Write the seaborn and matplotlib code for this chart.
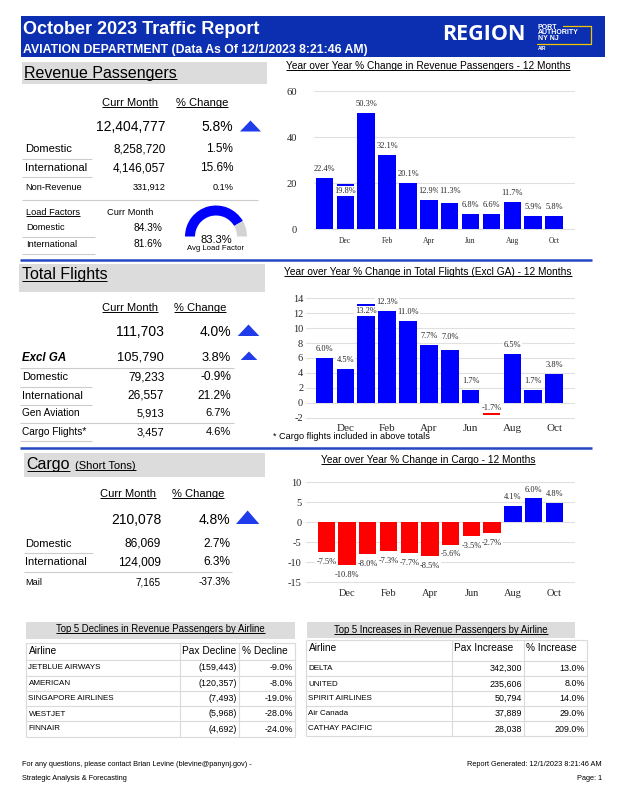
import matplotlib
matplotlib.use("Agg")
import matplotlib.pyplot as plt
from matplotlib.patches import Rectangle, Polygon, Wedge
import pandas as pd
import seaborn as sns

# --- Data: year over year % change, last 12 months ---
months = ['Nov', 'Dec', 'Jan', 'Feb', 'Mar', 'Apr', 'May', 'Jun', 'Jul', 'Aug', 'Sep', 'Oct']
pax_change = [22.4, 19.8, 50.3, 32.1, 20.1, 12.9, 11.3, 6.8, 6.6, 11.7, 5.9, 5.8]
flights_change = [6.0, 4.5, 13.2, 12.3, 11.0, 7.7, 7.0, 1.7, -1.7, 6.5, 1.7, 3.8]
cargo_change = [-7.5, -10.8, -8.0, -7.3, -7.7, -8.5, -5.6, -3.5, -2.7, 4.1, 6.0, 4.8]

# --- Data: current month summaries ---
rev_total = (12404777, 5.8)
rev_labels = ['Domestic', 'International', 'Non-Revenue']
rev_curr = [8258720, 4146057, 331912]
rev_pct = [1.5, 15.6, 0.1]
lf_labels = ['Domestic', 'International']
lf_values = [84.3, 81.6]
avg_load_factor = 83.3

flights_total = (111703, 4.0)
flights_labels = ['Excl GA', 'Domestic', 'International', 'Gen Aviation', 'Cargo Flights*']
flights_curr = [105790, 79233, 26557, 5913, 3457]
flights_pct = [3.8, -0.9, 21.2, 6.7, 4.6]

cargo_total = (210078, 4.8)
cargo_labels = ['Domestic', 'International', 'Mail']
cargo_curr = [86069, 124009, 7165]
cargo_pct = [2.7, 6.3, -37.3]

# --- Data: top 5 airline tables ---
decline_airlines = ['JETBLUE AIRWAYS', 'AMERICAN', 'SINGAPORE AIRLINES', 'WESTJET', 'FINNAIR']
decline_pax = [-159443, -120357, -7493, -5968, -4692]
decline_pct = [-9.0, -8.0, -19.0, -28.0, -24.0]
increase_airlines = ['DELTA', 'UNITED', 'SPIRIT AIRLINES', 'Air Canada', 'CATHAY PACIFIC']
increase_pax = [342300, 235606, 50794, 37889, 28038]
increase_pct = [13.0, 8.0, 14.0, 29.0, 209.0]

sns.set_style("white")
plt.rcParams['font.family'] = ['Liberation Sans', 'DejaVu Sans']
SANS = 'Liberation Sans'
SERIF = 'Liberation Serif'
BLUE = '#0000FF'
RED = '#FF0000'
GRAY_BOX = '#DCDCDC'
RULE = '#CCCCCC'

W, H = 618, 800
fig = plt.figure(figsize=(W / 100, H / 100), dpi=100)

# background axes in pixel coordinates (y grows downward)
bg = fig.add_axes([0, 0, 1, 1])
bg.set_xlim(0, W)
bg.set_ylim(H, 0)
bg.axis('off')
renderer = fig.canvas.get_renderer()


def text(x, y, s, size, ha='left', color='black', weight='normal', style='normal',
         family=SANS, underline=False):
    t = bg.text(x, y, s, fontsize=size, ha=ha, va='center', color=color,
                fontweight=weight, fontstyle=style, family=family)
    if underline:
        bb = t.get_window_extent(renderer=renderer)
        inv = bg.transData.inverted()
        (xa, yb), (xb, _) = inv.transform([(bb.x0, bb.y0), (bb.x1, bb.y1)])
        yu = yb - 0.1 * size * 100 / 72
        bg.plot([xa, xb], [yu, yu], color=color, lw=0.7, solid_capstyle='butt')
    return t


def hline(y, x0, x1, color=RULE, lw=0.8):
    bg.plot([x0, x1], [y, y], color=color, lw=lw, solid_capstyle='butt')


def vline(x, y0, y1, color=RULE, lw=0.8):
    bg.plot([x, x], [y0, y1], color=color, lw=lw, solid_capstyle='butt')


def box(x0, y0, x1, y1, color):
    bg.add_patch(Rectangle((x0, y0), x1 - x0, y1 - y0, fc=color, ec='none'))


def triangle(x0, x1, ytop, ybot):
    bg.add_patch(Polygon([(x0, ybot), (x1, ybot), ((x0 + x1) / 2, ytop)],
                         closed=True, fc='#1F3BEA', ec='none'))


def num(v):
    return f'{v:,}'


def pct(v):
    return f'{v:.1f}%'


# --- Header band ---
box(21, 16, 605, 57, '#0B2FB0')
text(23, 29, 'October 2023 Traffic Report', 13, color='white', weight='bold')
text(23, 49.5, 'AVIATION DEPARTMENT (Data As Of 12/1/2023 8:21:46 AM)', 8.8,
     color='white', weight='bold')
text(484, 35, 'REGION', 15.5, ha='center', color='white', weight='bold', family='Open Sans')
for s, y in [('PORT', 27.5), ('AUTHORITY', 33), ('NY NJ', 38.5)]:
    text(537.5, y, s, 5, color='white', weight='bold')
text(537.5, 48.5, 'AIR', 3.5, color='white', weight='bold')
bg.plot([563, 590.5, 590.5, 537], [26, 26, 43.5, 43.5], color='#F2C500', lw=0.9)

# --- Revenue Passengers block ---
box(22, 62, 266.5, 84, GRAY_BOX)
text(24, 73.3, 'Revenue Passengers', 11.5, underline=True)
text(102.3, 103.3, 'Curr Month', 8, underline=True)
text(176, 103.3, '% Change', 8, underline=True)
text(165.7, 126.7, num(rev_total[0]), 10, ha='right')
text(233.3, 126.7, pct(rev_total[1]), 10, ha='right')
triangle(240, 261, 120.5, 131.5)
for lab, cur, p, y, sz in zip(rev_labels, rev_curr, rev_pct, [149, 168.3, 187.3], [8.5, 8.5, 6.6]):
    text(25, y, lab, sz - 0.4 if sz > 8 else sz)
    text(165.7, y, num(cur), sz, ha='right')
    text(233.3, y, pct(p), sz, ha='right')
hline(159, 22, 92)
hline(177.3, 22, 92)
hline(200, 22, 258)
text(26, 212.3, 'Load Factors', 6.7, underline=True)
text(107.3, 212.3, 'Curr Month', 6.7)
for lab, v, y in zip(lf_labels, lf_values, [227.7, 244.3]):
    text(26, y, lab, 6.7)
    text(162.7, y, pct(v), 7.3, ha='right')
hline(236.7, 22, 95)
hline(254, 22, 95)
# gauge for the average load factor
split = 180 + 180 * avg_load_factor / 100
bg.add_patch(Wedge((216, 236.5), 31, 180, split, width=10, fc=BLUE, ec='none'))
bg.add_patch(Wedge((216, 236.5), 31, split, 360, width=10, fc='#D3D3D3', ec='none'))
text(216, 240, pct(avg_load_factor), 8, ha='center')
text(216, 249, 'Avg Load Factor', 5.6, ha='center')
hline(259.5, 20, 592, color='#2447C2', lw=1.8)

# --- Total Flights block ---
box(19, 264, 265, 291.7, GRAY_BOX)
text(21.7, 275, 'Total Flights', 11.5, underline=True)
text(101.7, 307.7, 'Curr Month', 8, underline=True)
text(174, 307.7, '% Change', 8, underline=True)
text(164.3, 331.7, num(flights_total[0]), 10, ha='right')
text(231, 331.7, pct(flights_total[1]), 10, ha='right')
triangle(237.7, 259.3, 324.5, 336)
flight_y = [357.7, 377.3, 395.7, 413.3, 432.3]
flight_size = [9.3, 8.6, 8.6, 8.0, 8.0]
for i, (lab, cur, p) in enumerate(zip(flights_labels, flights_curr, flights_pct)):
    y, sz = flight_y[i], flight_size[i]
    if i == 0:
        text(22, y, lab, 8.3, weight='bold', style='italic')
    else:
        text(22, y, lab, sz - 0.7)
    text(164.3, y, num(cur), sz, ha='right')
    text(231, y, pct(p), sz, ha='right')
triangle(240.7, 257.3, 351.5, 360)
hline(368.3, 20, 234)
hline(386.7, 20, 92)
hline(405, 20, 92)
hline(423.3, 20, 234)
hline(441, 20, 92)
hline(447.7, 20, 592, color='#2447C2', lw=1.8)

# --- Cargo block ---
box(24, 453.3, 265, 476.7, GRAY_BOX)
text(26.7, 465, 'Cargo', 11.5, underline=True)
text(75, 466, '(Short Tons)', 8, underline=True)
text(100, 494, 'Curr Month', 8, underline=True)
text(171.7, 494, '% Change', 8, underline=True)
text(161, 520, num(cargo_total[0]), 10, ha='right')
text(230, 520, pct(cargo_total[1]), 10, ha='right')
triangle(236, 259.3, 510.5, 524)
for lab, cur, p, y, sz in zip(cargo_labels, cargo_curr, cargo_pct, [544, 562.3, 582.3], [8.6, 8.6, 7.2]):
    text(25.5, y, lab, sz - 0.6)
    text(161, y, num(cur), sz, ha='right')
    text(230, y, pct(p), sz, ha='right')
hline(552.7, 24, 93)
hline(571.7, 24, 232)


# --- 12 month bar charts ---
def bar_chart(x0, x1, ytop, ybot, values, xlim, ylim, yticks, ytick_size, ytick_pad,
              month_size, month_pad, nudge):
    ax = fig.add_axes([x0 / W, 1 - ybot / H, (x1 - x0) / W, (ybot - ytop) / H])
    ax.set_facecolor('none')
    df = pd.DataFrame({'month': months, 'change': values,
                       'sign': ['pos' if v >= 0 else 'neg' for v in values]})
    sns.barplot(data=df, x='month', y='change', hue='sign',
                palette={'pos': BLUE, 'neg': RED}, dodge=False, width=0.84,
                saturation=1, errorbar=None, legend=False, ax=ax, zorder=2,
                linewidth=0, edgecolor='none')
    ax.set_xlim(*xlim)
    ax.set_ylim(*ylim)
    ax.set_yticks(yticks)
    ax.set_yticklabels([str(v) for v in yticks], family=SERIF, fontsize=ytick_size)
    ax.set_xticks(range(1, 12, 2))
    ax.set_xticklabels(months[1::2], family=SERIF, fontsize=month_size)
    ax.tick_params(axis='y', length=0, pad=ytick_pad)
    ax.tick_params(axis='x', length=0, pad=month_pad)
    ax.yaxis.grid(True, color='#E0E0E0', lw=0.8)
    ax.set_axisbelow(True)
    ax.set_xlabel('')
    ax.set_ylabel('')
    for sp in ax.spines.values():
        sp.set_visible(False)
    for i, v in enumerate(values):
        off = nudge.get(i, 6.4 if v >= 0 else -7.0)
        ax.annotate(pct(v), (i, v), xytext=(0, off), textcoords='offset points',
                    ha='center', va='center', fontsize=6, family=SERIF, zorder=5,
                    bbox=dict(fc='white', ec='none', pad=0.8))
    return ax


text(428, 65.7, 'Year over Year % Change in Revenue Passengers - 12 Months', 7.3,
     ha='center', underline=True)
bar_chart(314, 575, 86.4, 233.9, pax_change, (-0.5, 12.0), (-2, 62), [0, 20, 40, 60],
          7.6, 12, 5.5, 2.1, {1: -5.0, 6: 9.0})

text(427.8, 272.3, 'Year over Year % Change in Total Flights (Excl GA) - 12 Months', 7.3,
     ha='center', underline=True)
bar_chart(305.7, 575, 293.8, 420.6, flights_change, (-0.9, 12.0), (-2.4, 14.6),
          list(range(-2, 15, 2)), 7.5, 1.8, 8, 2.6, {2: -4.7, 6: 10.0, 8: 5.3})
text(272.7, 436.7, '* Cargo flights included in above totals', 6.6)

text(427.8, 460, 'Year over Year % Change in Cargo - 12 Months', 7.3,
     ha='center', underline=True)
bar_chart(306, 575, 478.5, 586, cargo_change, (-0.98, 12.0), (-16, 11),
          [-15, -10, -5, 0, 5, 10], 7.5, 3, 7.5, 2.0, {})


# --- Top 5 airline tables ---
def airline_table(x_edges, y_title, title_box, header_y, row_lines, row_y,
                  headers, names, pax, pcts, pax_fmt):
    bx0, by0, bx1, by1 = title_box
    box(bx0, by0, bx1, by1, GRAY_BOX)
    text((bx0 + bx1) / 2, y_title, headers[0], 6.9, ha='center', underline=True)
    for y in row_lines:
        hline(y, x_edges[0], x_edges[-1], color='#DADADA')
    for x in x_edges:
        vline(x, row_lines[0], row_lines[-1], color='#DADADA')
    text(x_edges[0] + 2.5, header_y, 'Airline', 7.3)
    text(x_edges[1] + 2.5, header_y, headers[1], 7.3)
    text(x_edges[2] + 2.5, header_y, headers[2], 7.3)
    for n, p, c, y in zip(names, pax, pcts, row_y):
        text(x_edges[0] + 2.5, y, n, 5.8)
        text(x_edges[2] - 2, y, pax_fmt(p), 6.4, ha='right')
        text(x_edges[3] - 2, y, pct(c), 6.4, ha='right')


airline_table([26, 180, 239.3, 295], 629, (26, 621.7, 295, 639), 650.7,
              [642.7, 660, 675.7, 691, 706, 721, 737], [667.3, 683.7, 698.3, 714, 729],
              ['Top 5 Declines in Revenue Passengers by Airline', 'Pax Decline', '% Decline'],
              decline_airlines, decline_pax, decline_pct, lambda v: f'({abs(v):,})')
airline_table([306, 451.7, 524, 586.7], 630, (306.7, 621.7, 575, 638.3), 648.3,
              [640, 660.7, 675.7, 691, 706, 721, 736], [668.3, 684, 698.3, 713.7, 729],
              ['Top 5 Increases in Revenue Passengers by Airline', 'Pax Increase', '% Increase'],
              increase_airlines, increase_pax, increase_pct, lambda v: f'{v:,}')

# --- Footer ---
text(22, 765, 'For any questions, please contact Brian Levine (blevine@panynj.gov) -', 5.3)
text(22, 778, 'Strategic Analysis & Forecasting', 5.3)
text(602, 765, 'Report Generated: 12/1/2023 8:21:46 AM', 5.3, ha='right')
text(602, 779, 'Page: 1', 5.3, ha='right')

fig.savefig('out.png', dpi=100)
